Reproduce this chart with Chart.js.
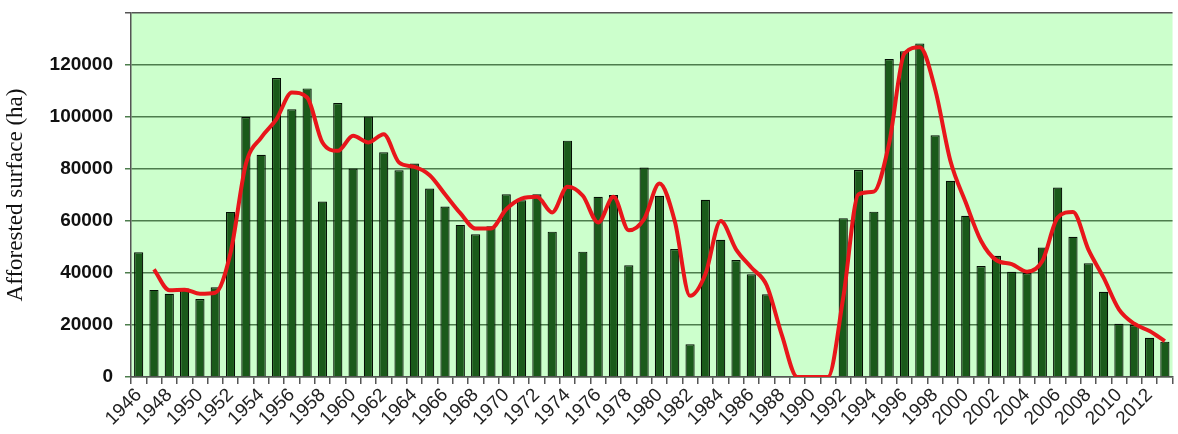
<!DOCTYPE html>
<html>
<head>
<meta charset="utf-8">
<script src="https://cdn.jsdelivr.net/npm/chart.js@4"></script>
<style>
html, body { margin: 0; padding: 0; background: #fff; overflow: hidden; }
</style>
</head>
<body>
<canvas id="afforest" width="1181" height="434"></canvas>
<script>
const years = [1946, 1947, 1948, 1949, 1950, 1951, 1952, 1953, 1954, 1955,
    1956, 1957, 1958, 1959, 1960, 1961, 1962, 1963, 1964, 1965,
    1966, 1967, 1968, 1969, 1970, 1971, 1972, 1973, 1974, 1975,
    1976, 1977, 1978, 1979, 1980, 1981, 1982, 1983, 1984, 1985,
    1986, 1987, 1988, 1989, 1990, 1991, 1992, 1993, 1994, 1995,
    1996, 1997, 1998, 1999, 2000, 2001, 2002, 2003, 2004, 2005,
    2006, 2007, 2008, 2009, 2010, 2011, 2012, 2013];

// yearly afforested surface (ha)
const surface = [48000, 33500, 32000, 34000, 30000, 34500, 63500, 100000, 85500, 115000,
    103000, 111000, 67500, 105400, 80200, 100200, 86400, 79500, 82100, 72500,
    65600, 58500, 54900, 58000, 70300, 68000, 70300, 55900, 90900, 48200,
    69300, 70000, 43000, 80600, 69700, 49200, 12600, 68200, 52800, 45000,
    39500, 31800, null, null, null, null, 61100, 79600, 63600, 122300,
    125300, 128300, 93000, 75500, 62000, 42700, 46600, 40500, 40000, 49800,
    72900, 53900, 43700, 32800, 20500, 20000, 15100, 13600];

// smoothed trend (red line)
const trend = [null, 41400, 33400, 33600, 32000, 32400, 47800, 81900, 92100, 99200,
    109400, 107500, 90200, 87000, 92800, 90200, 93400, 82500, 80800, 77600,
    70300, 63000, 57100, 57100, 64500, 68600, 69300, 63300, 73200, 69700,
    59400, 69300, 56400, 60700, 74400, 60000, 31200, 39500, 60000, 49100,
    42100, 35300, 16000, 0, 0, 0, 30500, 70300, 71300, 90000,
    124500, 126800, 110700, 83100, 67100, 52300, 44900, 43400, 40500, 44600,
    61300, 63500, 49100, 38200, 26000, 20500, 17700, 13800];

const yTicks = [0, 20000, 40000, 60000, 80000, 100000, 120000, 140000];

// green plot background
const plotBackground = {
    id: 'plotBackground',
    beforeDraw(chart) {
        const a = chart.chartArea;
        const c = chart.ctx;
        c.save();
        c.fillStyle = '#ccffcc';
        c.fillRect(a.left, a.top, a.right - a.left, a.bottom - a.top);
        c.restore();
    }
};

const ctx = document.getElementById('afforest');
const myChart = new Chart(ctx, {
    type: 'bar',
    data: {
        labels: years,
        datasets: [{
            type: 'line',
            data: trend,
            borderColor: '#e8161b',
            borderWidth: 4,
            pointRadius: 0,
            cubicInterpolationMode: 'monotone',
            order: 0
        }, {
            data: surface,
            backgroundColor: '#1a5a1a',
            borderColor: '#050f05',
            borderWidth: 1.2,
            barPercentage: 0.6,
            categoryPercentage: 1,
            order: 1
        }]
    },
    options: {
        responsive: false,
        animation: false,
        devicePixelRatio: 1,
        layout: {
            padding: { top: 13, right: 0, left: 2, bottom: 4 }
        },
        plugins: {
            legend: { display: false },
            tooltip: { enabled: false }
        },
        scales: {
            x: {
                grid: {
                    drawOnChartArea: false,
                    tickLength: 7,
                    color: '#555',
                    lineWidth: 1.5
                },
                border: { color: '#555', width: 1.5 },
                ticks: {
                    autoSkip: false,
                    minRotation: 45,
                    maxRotation: 45,
                    padding: 0,
                    color: '#222',
                    font: { family: 'Liberation Sans', size: 19 },
                    callback: function (val, i) {
                        return i % 2 === 0 ? this.getLabelForValue(val) : '';
                    }
                }
            },
            y: {
                min: 0,
                max: 140000,
                afterBuildTicks: function (axis) {
                    axis.ticks = yTicks.map(v => ({ value: v }));
                },
                afterFit: function (axis) {
                    axis.paddingTop = 0;
                },
                grid: {
                    tickLength: 6,
                    lineWidth: 1.5,
                    color: c => c.tick && c.tick.value === 140000 ? '#555' : '#4d7d4d'
                },
                border: { color: '#555', width: 1.5 },
                ticks: {
                    padding: 12,
                    color: '#111',
                    font: { family: 'Liberation Sans', size: 19, weight: 'bold' },
                    callback: v => v === 140000 ? '' : String(v)
                },
                title: {
                    display: true,
                    text: 'Afforested surface (ha)',
                    color: '#111',
                    padding: { top: 0, bottom: 8 },
                    font: { family: 'Liberation Serif', size: 23 }
                }
            }
        }
    },
    plugins: [plotBackground]
});
</script>
</body>
</html>
